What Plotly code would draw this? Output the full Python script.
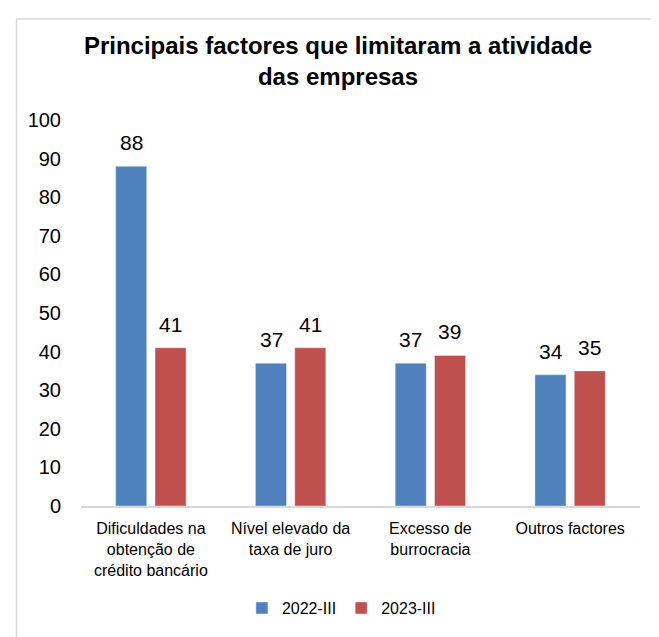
import plotly.graph_objects as go

categories = ["Dificuldades na<br>obtenção de<br>crédito bancário",
              "Nível elevado da<br>taxa de juro",
              "Excesso de<br>burrocracia",
              "Outros factores"]
series_names = ["2022-III", "2023-III"]
values_2022 = [88, 37, 37, 34]
values_2023 = [41, 41, 39, 35]
colors = ["#4F81BD", "#C0504D"]
y_ticks = list(range(0, 101, 10))

OFF = 8  # page body margin
W, H = 651, 629
L, T = 81.4 - OFF, 119.8 - OFF
R = W - (639.7 - OFF)
B = H - (513 - OFF)
pw, ph = W - L - R, H - T - B


def px_x(p):
    return (p - OFF - L) / pw


def px_y(p):
    return (H - B - (p - OFF)) / ph


fig = go.Figure()
for name, vals, col in zip(series_names, [values_2022, values_2023], colors):
    fig.add_trace(go.Bar(x=categories, y=vals, name=name, marker_color=col))

annotations = []
for shift, vals in zip([-19.6, 19.6], [values_2022, values_2023]):
    for cat, v in zip(categories, vals):
        annotations.append(dict(x=cat, y=v, xref="x", yref="y", text=str(v),
                                showarrow=False, xshift=shift, yshift=10,
                                yanchor="bottom", font=dict(size=21, color="#000000")))

fig.update_layout(
    width=W, height=H,
    margin=dict(l=L, r=R, t=T, b=B),
    paper_bgcolor="white", plot_bgcolor="white",
    font=dict(family="Liberation Sans, Arial", color="#000000"),
    title=dict(text="<b>Principais factores que limitaram a atividade<br>das empresas</b>",
               x=(338 - OFF) / W, xanchor="center", y=1 - (54 - OFF) / H, yanchor="top",
               font=dict(size=24, color="#000000")),
    barmode="group", bargap=0.437, bargroupgap=0.21,
    showlegend=True,
    legend=dict(orientation="h", x=px_x(341.5), xanchor="center", y=px_y(617), yanchor="middle",
                font=dict(size=16, color="#000000"), itemwidth=30, traceorder="normal"),
    xaxis=dict(showline=True, linecolor="#D9D9D9", linewidth=1.5, showgrid=False,
               tickfont=dict(size=16, color="#000000"), ticks="", ticklabelstandoff=7),
    yaxis=dict(range=[0, 100], tickvals=y_ticks, showgrid=False, showline=False,
               zeroline=False, tickfont=dict(size=20, color="#000000"),
               ticks="", ticklabelstandoff=19),
    annotations=annotations,
    shapes=[dict(type="rect", xref="paper", yref="paper",
                 x0=px_x(17), x1=px_x(720), y0=px_y(720), y1=px_y(17),
                 line=dict(color="#D9D9D9", width=1.5), fillcolor="rgba(0,0,0,0)", layer="below")],
)

fig.write_html("out.html")
